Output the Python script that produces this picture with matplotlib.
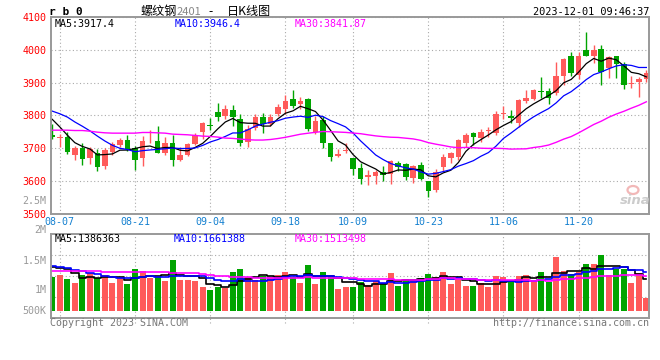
import numpy as np
import pandas as pd
import matplotlib
matplotlib.use('Agg')
import matplotlib.pyplot as plt
from matplotlib.patches import Ellipse
from matplotlib.transforms import blended_transform_factory

W, H = 660, 360

# rb0 daily K (螺纹钢2401), 2023-08-04 .. 2023-12-01
opens = [3740, 3730, 3734, 3680, 3700, 3669, 3685, 3647, 3690, 3710,
         3725, 3700, 3669, 3721, 3722, 3687, 3715, 3665, 3680, 3713,
         3750, 3772, 3810, 3797, 3815, 3789, 3720, 3761, 3794, 3774,
         3805, 3818, 3849, 3836, 3849, 3751, 3787, 3715, 3677, 3692,
         3671, 3640, 3613, 3616, 3628, 3621, 3656, 3652, 3611, 3649,
         3600, 3572, 3644, 3669, 3674, 3717, 3745, 3732, 3754, 3745,
         3803, 3798, 3778, 3845, 3850, 3873, 3875, 3868, 3919, 3982,
         3924, 4000, 3982, 4003, 3944, 3980, 3957, 3897, 3903, 3910]
highs = [3773, 3742, 3748, 3708, 3715, 3705, 3697, 3700, 3720, 3732,
         3740, 3707, 3737, 3755, 3767, 3733, 3739, 3703, 3717, 3745,
         3780, 3793, 3837, 3831, 3833, 3803, 3772, 3803, 3806, 3803,
         3836, 3861, 3876, 3856, 3852, 3797, 3797, 3717, 3697, 3715,
         3671, 3654, 3633, 3633, 3646, 3664, 3661, 3654, 3649, 3659,
         3600, 3636, 3684, 3690, 3727, 3745, 3750, 3760, 3765, 3812,
         3829, 3817, 3850, 3878, 3880, 3917, 3883, 3962, 3975, 3993,
         3992, 4053, 4015, 4015, 3980, 3982, 3962, 3920, 3918, 3939]
lows = [3728, 3703, 3683, 3663, 3650, 3652, 3630, 3638, 3678, 3703,
        3693, 3635, 3645, 3717, 3685, 3680, 3647, 3660, 3675, 3710,
        3727, 3755, 3783, 3789, 3767, 3708, 3703, 3756, 3746, 3767,
        3797, 3803, 3823, 3818, 3754, 3744, 3702, 3661, 3672, 3685,
        3618, 3592, 3587, 3592, 3600, 3590, 3631, 3603, 3595, 3603,
        3553, 3567, 3631, 3656, 3664, 3705, 3710, 3720, 3735, 3740,
        3788, 3778, 3766, 3837, 3847, 3853, 3835, 3863, 3893, 3921,
        3910, 3980, 3959, 3893, 3913, 3913, 3880, 3882, 3857, 3903]
closes = [3735, 3733, 3690, 3702, 3668, 3697, 3642, 3695, 3712, 3725,
          3699, 3665, 3722, 3723, 3687, 3715, 3665, 3680, 3713, 3740,
          3777, 3769, 3795, 3818, 3794, 3715, 3759, 3794, 3775, 3795,
          3825, 3844, 3830, 3844, 3759, 3782, 3715, 3674, 3682, 3695,
          3638, 3606, 3618, 3628, 3618, 3662, 3644, 3613, 3646, 3608,
          3570, 3628, 3674, 3686, 3725, 3740, 3733, 3748, 3757, 3803,
          3806, 3791, 3847, 3853, 3878, 3870, 3854, 3921, 3973, 3929,
          3982, 3982, 4000, 3931, 3977, 3956, 3891, 3900, 3910, 3929]
# volume, thousand lots
volumes = [1486, 1559, 1384, 1224, 1559, 1661, 1413, 1559, 1224, 1413,
           1165, 1821, 1733, 1442, 1486, 1296, 2214, 1340, 1340, 1296,
           1034, 903, 1049, 976, 1690, 1835, 1486, 1340, 1530, 1486,
           1559, 1690, 1486, 1224, 1996, 1165, 1690, 1457, 947, 1049,
           1049, 1267, 1122, 1311, 1194, 1661, 1093, 1384, 1340, 1442,
           1602, 1486, 1690, 1165, 1384, 1078, 1078, 1194, 1034, 1515,
           1471, 1238, 1529, 1559, 1296, 1675, 1267, 2345, 1748, 1602,
           1675, 2039, 2039, 2432, 1559, 1806, 1806, 1209, 1660, 553]

ma5_head = [3788, 3765, 3740, 3717]
ma10_head = [3813, 3805, 3795, 3780, 3767, 3753, 3737, 3722, 3709]
ma30_head = [3755, 3755, 3755, 3754, 3754, 3752, 3749, 3747, 3746, 3746,
             3746, 3746, 3748, 3748, 3747, 3746, 3743, 3742, 3741, 3739,
             3737, 3736, 3734, 3731, 3730, 3728, 3726, 3725, 3725]
vma5_head = [1890, 1880, 1840, 1650]
vma10_head = [1950, 1900, 1850, 1780, 1720, 1660, 1600, 1530, 1460]
vma30_head = [1738, 1736, 1734, 1731, 1728, 1722, 1716, 1710, 1705, 1700,
              1695, 1690, 1685, 1680, 1676, 1671, 1665, 1658, 1650, 1640,
              1610, 1560, 1520, 1495, 1478, 1465, 1458, 1450, 1443]

tick_dates = ['08-07', '08-21', '09-04', '09-18', '10-09', '10-23', '11-06', '11-20']
price_ticks = [3500, 3600, 3700, 3800, 3900, 4000, 4100]
vol_labels = ['2.5M', '2M', '1.5M', '1M', '500K']
holidays = ['2023-09-29', '2023-10-02', '2023-10-03', '2023-10-04',
            '2023-10-05', '2023-10-06']

RED = '#ff5a5a'
GREEN = '#00a400'
GRID = dict(color='#aaaaaa', linestyle=(0, (1, 2.2)), linewidth=0.8)
MONO = 'DejaVu Sans Mono'
CJK = ['Noto Sans CJK SC', 'DejaVu Sans']


def moving_avg(vals, n, head):
    '''
    Rolling mean of vals, with the first values taken from head.
    '''
    s = pd.Series(vals, dtype=float).rolling(n).mean()
    s.iloc[:len(head)] = head
    return s.values


def fbox(x0, y0, x1, y1):
    '''
    Pixel box (top-left origin) -> figure fraction rect
    '''
    return [x0 / W, 1 - y1 / H, (x1 - x0) / W, (y1 - y0) / H]


def ptext(x, y, s, **kw):
    kw.setdefault('va', 'center')
    fig.text(x / W, 1 - y / H, s, **kw)


days = pd.bdate_range('2023-08-04', '2023-12-01')
days = days[~days.isin(pd.to_datetime(holidays))]
labels = days.strftime('%m-%d')
idx = np.arange(len(closes))
tick_idx = [int(np.where(labels == d)[0][0]) for d in tick_dates]

o = np.array(opens)
c = np.array(closes)
up = c >= o
colors = np.where(up, RED, GREEN)

fig = plt.figure(figsize=(W / 100, H / 100), dpi=100)
fig.patch.set_facecolor('white')

ax = fig.add_axes(fbox(50.7, 16.8, 649.3, 214))
axv = fig.add_axes(fbox(50.7, 234.3, 649.3, 318))

# price panel
ax.vlines(idx, lows, highs, colors=colors, linewidth=1.0)
body = np.maximum(np.abs(c - o), 2.5)
ax.bar(idx, body, bottom=np.minimum(o, c), width=0.74, color=colors, linewidth=0)
ax.plot(idx, moving_avg(closes, 5, ma5_head), color='black', lw=0.9)
ax.plot(idx, moving_avg(closes, 10, ma10_head), color='#0000ff', lw=0.9)
ax.plot(idx, moving_avg(closes, 30, ma30_head), color='#ff00ff', lw=1.0)

ax.set_xlim(-0.21, 79.39)
ax.set_ylim(3500, 4100)
ax.set_yticks(price_ticks)
ax.set_yticklabels([str(p) for p in price_ticks], color='#ff0000',
                   fontsize=7.2, family=MONO)
ax.set_xticks(tick_idx)
ax.set_xticklabels(tick_dates, color='#1480d0', fontsize=7.2, family=MONO)
ax.tick_params(length=0, pad=3)
ax.tick_params(axis='x', pad=2.5)
ax.grid(True, **GRID)
ax.set_axisbelow(True)

# volume panel
axv.bar(idx, volumes, width=0.8, color=colors, linewidth=0)
axv.plot(idx, moving_avg(volumes, 5, vma5_head), color='black', lw=1.2, drawstyle='steps-mid')
axv.plot(idx, moving_avg(volumes, 10, vma10_head), color='#0000ff', lw=1.2, drawstyle='steps-mid')
axv.plot(idx, moving_avg(volumes, 30, vma30_head), color='#ff00ff', lw=1.2, drawstyle='steps-mid')
axv.set_xlim(ax.get_xlim())
axv.set_ylim(-319, 3339)
axv.set_xticks([])
axv.set_yticks([])
trans = blended_transform_factory(axv.transData, axv.transAxes)
axv.vlines(tick_idx, -0.065, 1, transform=trans, clip_on=False, zorder=0, **GRID)
for f in (0.25, 0.5, 0.75):
    axv.axhline(axv.get_ylim()[0] + f * 3658, zorder=0, **GRID)

for a in (ax, axv):
    for sp in a.spines.values():
        sp.set_color('#999999')
        sp.set_linewidth(1.4)

# header
ptext(49, 12, 'r b 0', fontsize=8, family=MONO, weight='bold')
ptext(140.7, 11.5, '螺纹钢', fontsize=8.7, family=CJK)
ptext(177, 11.8, '2401', fontsize=8, family=CJK, color='#888888')
ptext(210.5, 11.5, '-', fontsize=8.7, family=CJK, ha='center')
ptext(226.7, 11.5, '日K线图', fontsize=8.7, family=CJK)
ptext(649.3, 12.3, '2023-12-01 09:46:37', fontsize=7.4, family=MONO, ha='right')

ptext(54.5, 24, 'MA5:3917.4', fontsize=7.2, family=MONO, color='black')
ptext(174.3, 24, 'MA10:3946.4', fontsize=7.2, family=MONO, color='#0000ff')
ptext(294.7, 24, 'MA30:3841.87', fontsize=7.2, family=MONO, color='#ff00ff')

ptext(54.3, 238.7, 'MA5:1386363', fontsize=7.2, family=MONO, color='black')
ptext(174, 238.7, 'MA10:1661388', fontsize=7.2, family=MONO, color='#0000ff')
ptext(295, 238.7, 'MA30:1513498', fontsize=7.2, family=MONO, color='#ff00ff')

for lab, y in zip(vol_labels, [201.2, 230.5, 260.5, 290, 311.3]):
    ptext(46.7, y, lab, fontsize=7.2, family=MONO, color='#999999', ha='right')

ptext(50, 323.5, 'Copyright 2023 SINA.COM', fontsize=7.2, family=MONO, color='#777777')
ptext(649, 323.5, 'http://finance.sina.com.cn', fontsize=7.2, family=MONO,
      color='#777777', ha='right')

# sina watermark
fig.add_artist(Ellipse((633 / W, 1 - 190 / H), 11 / W, 8 / H,
                       transform=fig.transFigure, facecolor='none',
                       edgecolor='#f2b8b8', linewidth=1.6))
ptext(635, 200, 'sina', fontsize=9.5, color='#cccccc', style='italic',
      weight='bold', ha='center')

fig.savefig('out.png', dpi=100)
